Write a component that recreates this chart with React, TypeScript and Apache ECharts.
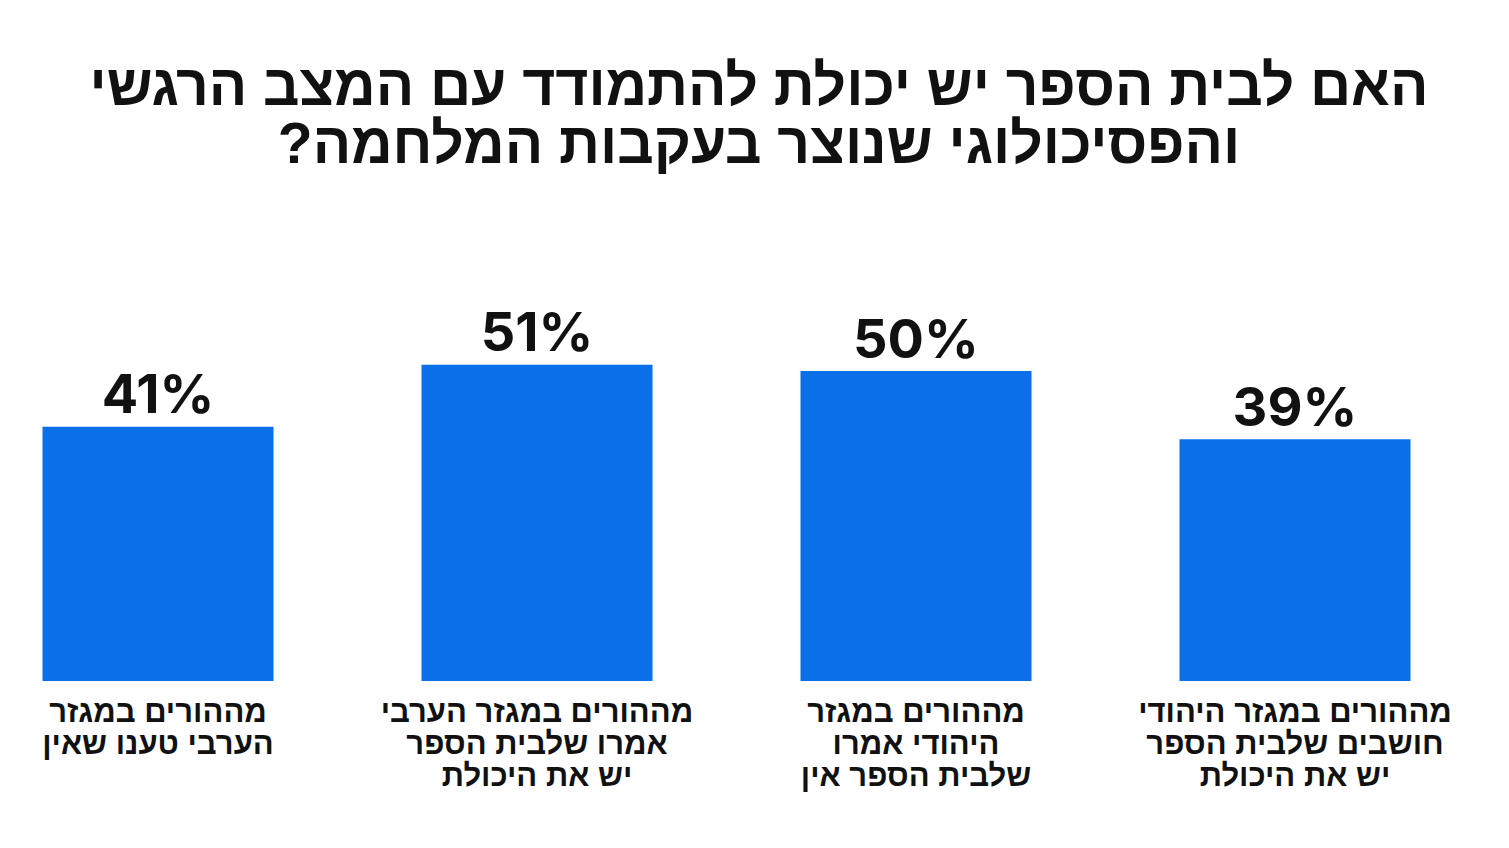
import { useEffect, useRef } from 'react'
import * as echarts from 'echarts'

// 类别标签（希伯来文，多行）
const categories = [
  'מההורים במגזר\nהערבי טענו שאין',
  'מההורים במגזר הערבי\nאמרו שלבית הספר\nיש את היכולת',
  'מההורים במגזר\nהיהודי אמרו\nשלבית הספר אין',
  'מההורים במגזר היהודי\nחושבים שלבית הספר\nיש את היכולת',
]

// 百分比数值
const values = [41, 51, 50, 39]

// \u200F（RLM）让问号按从右到左排在行尾
const titleText = 'האם לבית הספר יש יכולת להתמודד עם המצב הרגשי\nוהפסיכולוגי שנוצר בעקבות המלחמה?\u200F'

export default function App() {
  const containerRef = useRef<HTMLDivElement>(null)

  useEffect(() => {
    if (!containerRef.current) return
    const chart = echarts.init(containerRef.current, null, { renderer: 'svg' })

    const option: echarts.EChartsOption = {
      animation: false,
      backgroundColor: '#ffffff',
      title: {
        text: titleText,
        left: 754,
        top: 51,
        textAlign: 'center',
        textStyle: {
          color: '#111111',
          fontSize: 57,
          lineHeight: 58,
          fontWeight: 'bold',
          fontFamily: 'Liberation Sans',
        },
      },
      grid: { left: 158, right: 214, top: 61, bottom: 167 },
      xAxis: {
        type: 'category',
        data: categories,
        boundaryGap: false,
        axisLine: { show: false },
        axisTick: { show: false },
        axisLabel: {
          interval: 0,
          margin: 14,
          color: '#111111',
          fontSize: 31,
          lineHeight: 32,
          fontWeight: 'bold',
          fontFamily: 'Liberation Sans',
          align: 'center',
        },
      },
      yAxis: {
        type: 'value',
        min: 0,
        max: 100,
        show: false,
        splitLine: { show: false },
      },
      series: [
        {
          type: 'bar',
          data: values,
          barWidth: 231,
          clip: false,
          itemStyle: { color: '#0B6FEA' },
          label: {
            show: true,
            position: 'top',
            distance: 6,
            formatter: '{c}%',
            color: '#111111',
            fontSize: 54,
            fontWeight: 'bold',
            fontFamily: 'Inter',
          },
        },
      ],
    }

    chart.setOption(option)
    return () => chart.dispose()
  }, [])

  return (
    <div
      ref={containerRef}
      style={{ position: 'fixed', left: 0, top: 0, width: 1509, height: 848 }}
    />
  )
}
